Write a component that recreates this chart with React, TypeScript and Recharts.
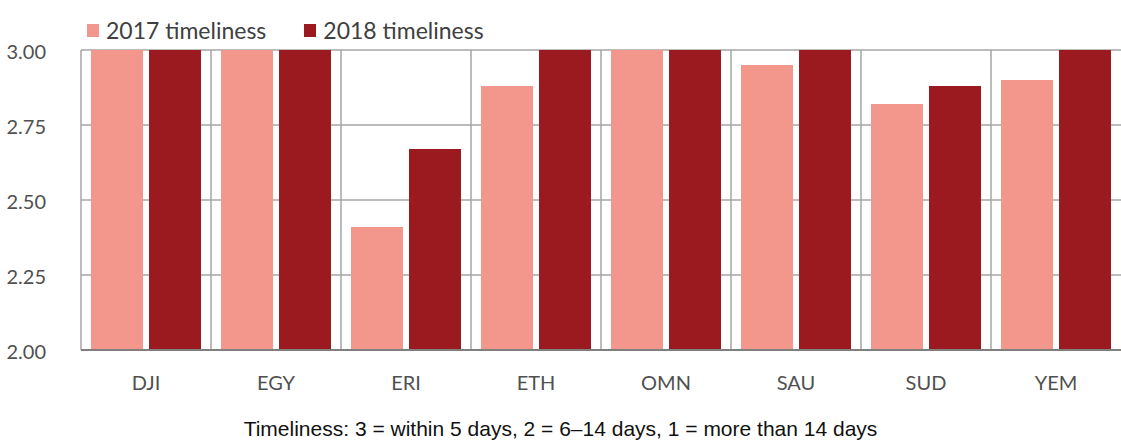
import { Bar, BarChart, CartesianGrid, XAxis, YAxis } from "recharts";

const countries = ["DJI", "EGY", "ERI", "ETH", "OMN", "SAU", "SUD", "YEM"];
const timeliness2017 = [3.0, 3.0, 2.41, 2.88, 3.0, 2.95, 2.82, 2.9];
const timeliness2018 = [3.0, 3.0, 2.67, 3.0, 3.0, 3.0, 2.88, 3.0];
const yTicks = [2.0, 2.25, 2.5, 2.75, 3.0];

const SERIES = [
  { key: "t2017", name: "2017 timeliness", color: "#F3968B" },
  { key: "t2018", name: "2018 timeliness", color: "#9A1A1F" },
];

const data = countries.map((country, i) => ({
  country,
  t2017: timeliness2017[i],
  t2018: timeliness2018[i],
}));

function LegendRow() {
  return (
    <div
      style={{
        position: "absolute",
        top: 16,
        left: 87,
        display: "flex",
        fontFamily: "Lato",
        fontSize: 23,
        lineHeight: "28px",
        color: "#404040",
      }}
    >
      {SERIES.map((s) => (
        <div key={s.key} style={{ display: "flex", alignItems: "center", marginRight: 38 }}>
          <span
            style={{
              display: "inline-block",
              width: 12,
              height: 13,
              background: s.color,
              marginRight: 7,
            }}
          />
          {s.name}
        </div>
      ))}
    </div>
  );
}

export default function App() {
  return (
    <div
      style={{
        position: "absolute",
        left: 0,
        top: 0,
        width: 1121,
        height: 447,
        background: "#fff",
      }}
    >
      <BarChart
        width={1121}
        height={447}
        data={data}
        margin={{ top: 50, right: 0, left: 0, bottom: 57 }}
        barCategoryGap={10}
        barGap={6}
      >
        <CartesianGrid
          stroke="#a6a6a6"
          strokeWidth={1.5}
          verticalCoordinatesGenerator={({ offset }: any) =>
            countries.map((_, i) => offset.left + (i * offset.width) / countries.length)
          }
        />
        <XAxis
          dataKey="country"
          axisLine={{ stroke: "#7f7f7f", strokeWidth: 2 }}
          tickLine={false}
          tickMargin={20}
          tick={{ fill: "#505050", fontSize: 20, fontFamily: "Lato" }}
          height={40}
        />
        <YAxis
          domain={[2, 3]}
          ticks={yTicks}
          tickFormatter={(v: number) => v.toFixed(2)}
          axisLine={false}
          tickLine={false}
          tickSize={0}
          tickMargin={35}
          width={81}
          tick={{ fill: "#505050", fontSize: 20, fontFamily: "Lato", dy: 2 }}
        />
        {SERIES.map((s) => (
          <Bar
            key={s.key}
            dataKey={s.key}
            name={s.name}
            fill={s.color}
            isAnimationActive={false}
          />
        ))}
      </BarChart>
      <LegendRow />
      <div
        style={{
          position: "absolute",
          top: 417,
          left: 0,
          width: 1121,
          textAlign: "center",
          fontFamily: "Liberation Sans",
          fontSize: 21,
          color: "#111",
        }}
      >
        Timeliness: 3 = within 5 days, 2 = 6–14 days, 1 = more than 14 days
      </div>
    </div>
  );
}
